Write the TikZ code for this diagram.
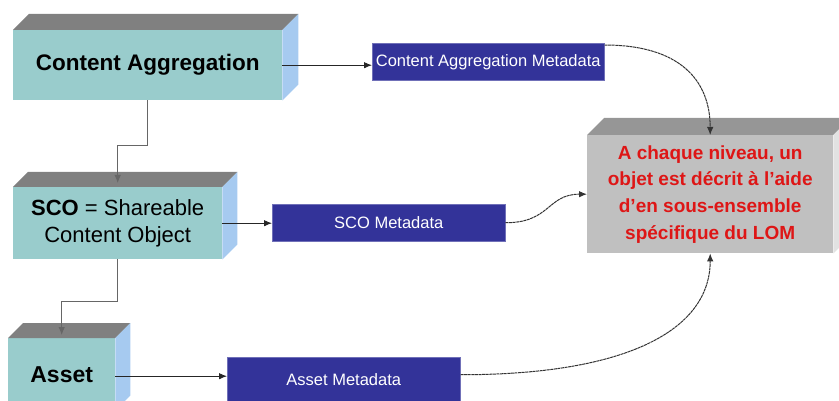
\documentclass[tikz,border=0pt]{standalone}
\usepackage{fontspec}
\setmainfont{Liberation Sans}
\usetikzlibrary{arrows.meta,calc}
\definecolor{tealf}{RGB}{153,204,204}
\definecolor{topg}{RGB}{128,128,128}
\definecolor{sideb}{RGB}{166,202,240}
\definecolor{navyb}{RGB}{51,51,153}
\definecolor{lomfront}{RGB}{192,192,192}
\definecolor{lomtop}{RGB}{150,150,150}
\definecolor{lomside}{RGB}{226,226,226}
\definecolor{redtxt}{RGB}{222,22,22}
\newcommand\cubefx[4]{%
  \fill[#3] (#1.north west) -- ++(#2pt,#2pt) -- ($(#1.north east)+(#2pt,#2pt)$) -- (#1.north east) -- cycle;
  \fill[#4] (#1.north east) -- ($(#1.north east)+(#2pt,#2pt)$) -- ($(#1.south east)+(#2pt,#2pt)$) -- (#1.south east) -- cycle;
}
\begin{document}
\begin{tikzpicture}[x=1pt,y=-1pt,
  face/.style={fill=tealf, inner sep=0pt, anchor=north west, align=center, text=black},
  meta/.style={fill=navyb, draw=navyb!70!white, line width=0.5pt, inner sep=0pt, anchor=north west, text=white, font=\fontsize{16.5}{19}\selectfont},
  arr/.style={draw=black!85, line width=0.9pt, -{Latex[length=8pt,width=6.5pt]}},
  curv/.style={draw=black!80, line width=1pt, dash pattern=on 3pt off 0.6pt, -{Latex[length=8pt,width=6.5pt]}},
  link/.style={draw=black!60, line width=1pt, -{Latex[length=8pt,width=6.5pt]}}]
\useasboundingbox (0,0) rectangle (839,401);
\clip (0,0) rectangle (839,401);
% cubes
\node[face, minimum width=269pt, minimum height=70pt, font=\bfseries\fontsize{22.5}{26}\selectfont] (ca) at (13,30) {Content Aggregation};
\node[face, minimum width=209pt, minimum height=72pt, font=\fontsize{22}{26.5}\selectfont] (sco) at (13,187) {\textbf{SCO} = Shareable\\Content Object};
\node[face, minimum width=107pt, minimum height=72pt, font=\bfseries\fontsize{23}{26}\selectfont] (asset) at (8,338) {Asset};
\node[fill=lomfront, minimum width=246pt, minimum height=118pt, anchor=north west, inner sep=0pt, align=center, text=redtxt, font=\bfseries\fontsize{19}{26.7}\selectfont] (lom) at (587,135) {A chaque niveau, un\\objet est décrit à l'aide\\d'en sous-ensemble\\spécifique du LOM};
\cubefx{ca}{16}{topg}{sideb}
\cubefx{sco}{15}{topg}{sideb}
\cubefx{asset}{15}{topg}{sideb}
\cubefx{lom}{17}{lomtop}{lomside}
% metadata boxes
\node[meta, minimum width=232pt, minimum height=37pt] (cam) at (372,43) {Content Aggregation Metadata};
\node[meta, minimum width=233pt, minimum height=37pt] (scom) at (272,204) {SCO Metadata};
\node[meta, minimum width=233pt, minimum height=45pt] (assetm) at (227,357) {Asset Metadata};
% hierarchy connectors
\draw[link] (ca.south) -- ++(0,45) -| ([yshift=4pt]sco.north);
\draw[link] (sco.south) -- ++(0,42) -| ([yshift=3pt]asset.north);
% to metadata
\draw[arr] (ca.east) -- (ca.east -| cam.west);
\draw[arr] (sco.east) -- (sco.east -| scom.west);
\draw[arr] ([yshift=-2pt]asset.east) -- ([yshift=-2pt]asset.east -| assetm.west);
% to LOM
\draw[curv] ([yshift=-2pt]cam.north east) .. controls +(75,0) and +(0,-55) .. (lom.north);
\draw[curv] (scom.east) .. controls +(45,0) and +(-40,0) .. (lom.west);
\draw[curv] ([yshift=5pt]assetm.east) .. controls +(170,0) and +(0,75) .. (lom.south);
\end{tikzpicture}
\end{document}
